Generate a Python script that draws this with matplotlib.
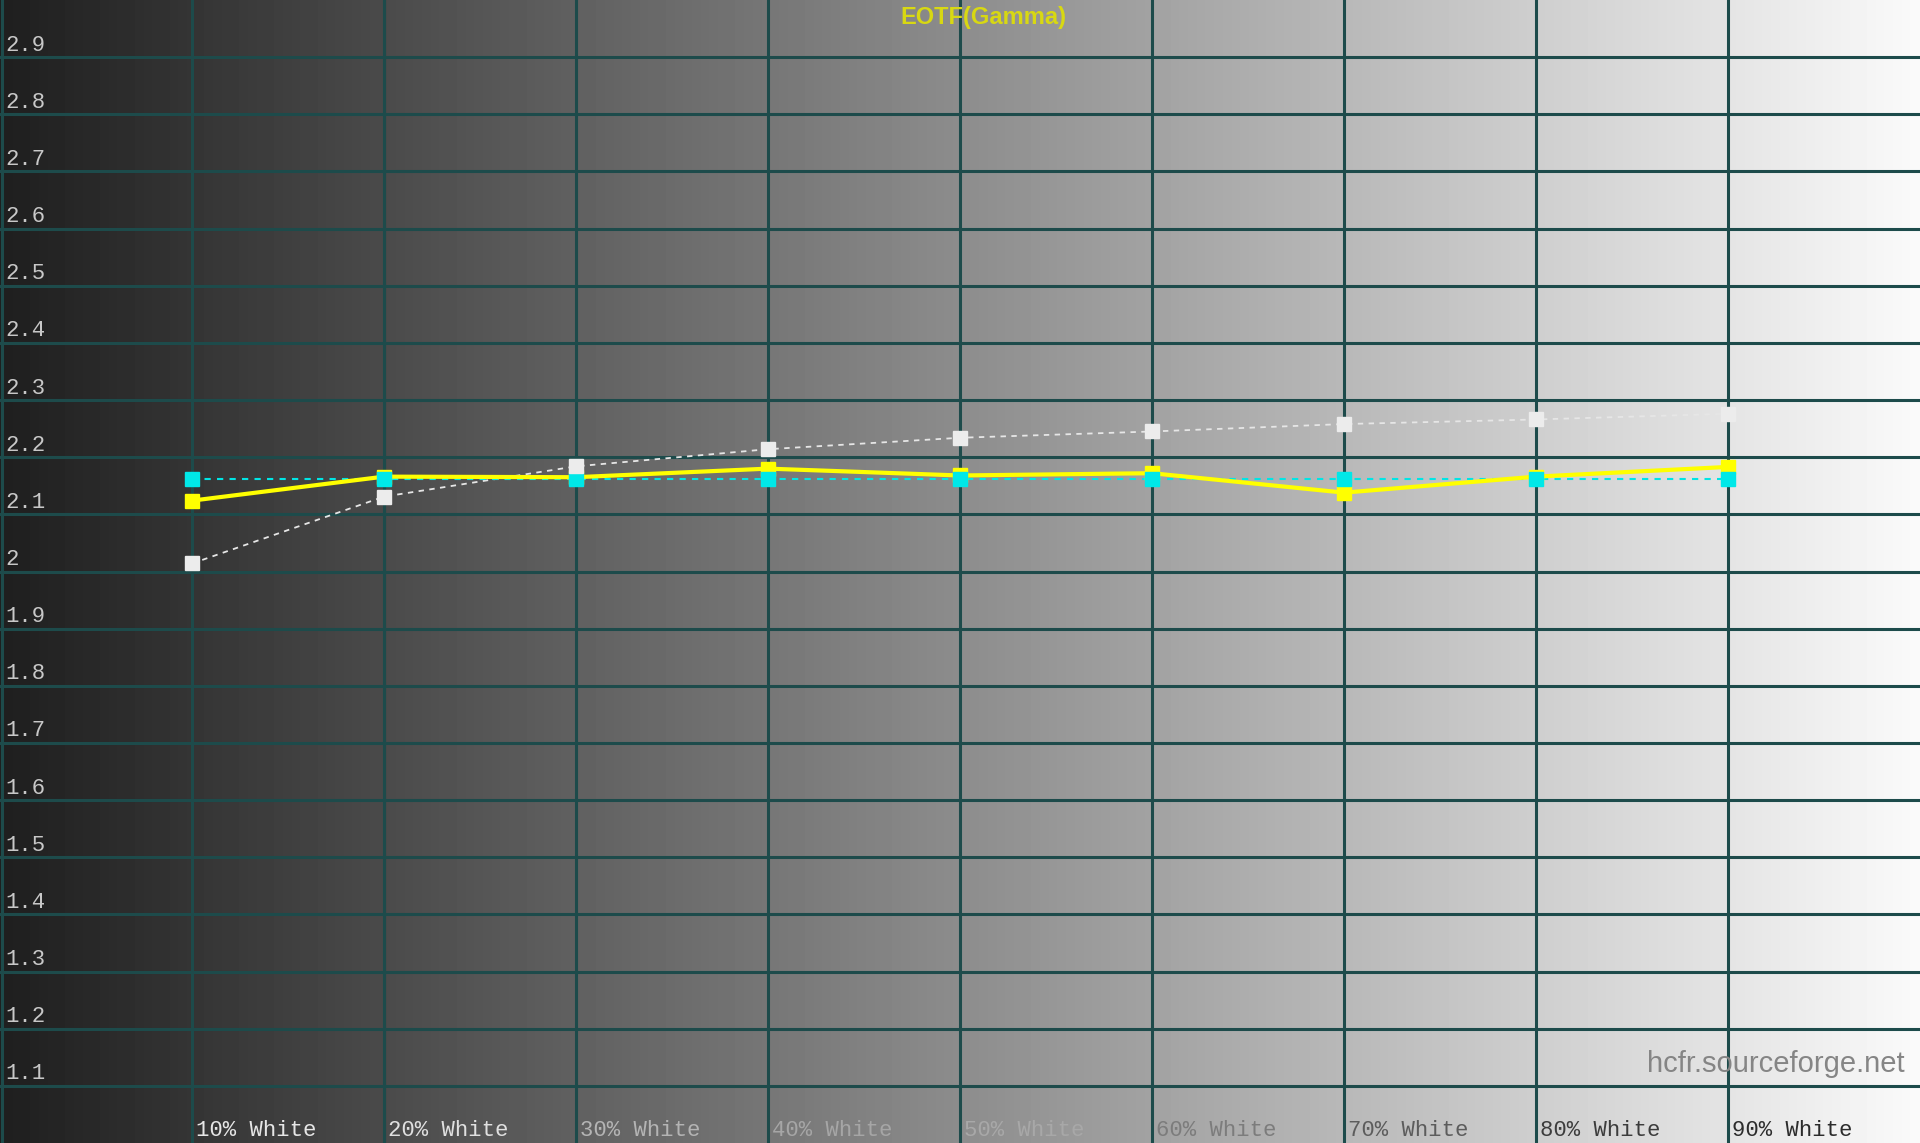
import numpy as np
import matplotlib
matplotlib.use("Agg")
import matplotlib.pyplot as plt

# 測定ポイント (% White)
levels = [10, 20, 30, 40, 50, 60, 70, 80, 90]
x_labels = ["10% White", "20% White", "30% White", "40% White", "50% White",
            "60% White", "70% White", "80% White", "90% White"]
x_label_colors = ["#e6e6e6", "#e0e0e0", "#b4b4b4", "#a6a6a6", "#a8a8a8",
                  "#7c7c7c", "#5c5c5c", "#3c3c3c", "#2c2c2c"]

# ガンマ値
gamma_measured = [2.124, 2.166, 2.165, 2.180, 2.168, 2.172, 2.138, 2.166, 2.183]
gamma_target = [2.161, 2.161, 2.161, 2.161, 2.161, 2.161, 2.161, 2.161, 2.161]
gamma_reference = [2.014, 2.131, 2.184, 2.214, 2.234, 2.245, 2.258, 2.266, 2.276]

y_ticks = [2.9, 2.8, 2.7, 2.6, 2.5, 2.4, 2.3, 2.2, 2.1, 2.0,
           1.9, 1.8, 1.7, 1.6, 1.5, 1.4, 1.3, 1.2, 1.1]
y_tick_labels = ["2.9", "2.8", "2.7", "2.6", "2.5", "2.4", "2.3", "2.2", "2.1", "2",
                 "1.9", "1.8", "1.7", "1.6", "1.5", "1.4", "1.3", "1.2", "1.1"]

fig = plt.figure(figsize=(19.2, 11.43), dpi=100)
ax = fig.add_axes([0, 0, 1, 1])
ax.set_xlim(0, 100)
ax.set_ylim(1.0, 3.0)
ax.axis("off")

# 背景のグレーグラデーション
grad = np.linspace(0.12, 0.98, 512).reshape(1, -1)
ax.imshow(grad, extent=[0, 100, 1.0, 3.0], aspect="auto", cmap="gray",
          vmin=0, vmax=1, zorder=0, interpolation="bilinear")

grid_color = "#1d4b4b"
for v in y_ticks:
    ax.axhline(v, color=grid_color, lw=2.2, zorder=1)
for x in [0.1] + levels:
    ax.axvline(x, color=grid_color, lw=2.2, zorder=1)

mono = "Liberation Mono"
for v, lab in zip(y_ticks, y_tick_labels):
    ax.text(0.3, v + 0.021, lab, family=mono, fontsize=16, color="#c8c8c8",
            ha="left", va="center", zorder=2)
for x, lab, c in zip(levels, x_labels, x_label_colors):
    ax.text(x + 0.2, 1.021, lab, family=mono, fontsize=16, color=c,
            ha="left", va="center", zorder=2)

# 基準カーブ (白の点線)
ax.plot(levels, gamma_reference, color="#e6e6e6", lw=1.3, ls=(0, (3, 3)), zorder=3)
ax.plot(levels, gamma_reference, ls="none", marker="s", ms=10,
        color="#ececec", mec="#ececec", zorder=6)

# ターゲット (シアンの破線)
ax.plot(levels, gamma_target, color="#00e5e5", lw=1.5, ls=(0, (3, 3)), zorder=3)

# 測定値 (黄色)
ax.plot(levels, gamma_measured, color="#ffff00", lw=3.0, zorder=4)
ax.plot(levels, gamma_measured, ls="none", marker="s", ms=10,
        color="#ffff00", mec="#ffff00", zorder=5)
ax.plot(levels, gamma_target, ls="none", marker="s", ms=10,
        color="#00e8e8", mec="#00e8e8", zorder=5.5)

ax.text(51.2, 2.969, "EOTF(Gamma)", family="Liberation Sans", fontweight="bold",
        fontsize=17, color="#d8d812", ha="center", va="center", zorder=7)
ax.text(99.2, 1.139, "hcfr.sourceforge.net", family="Liberation Sans",
        fontsize=21, color="#858585", ha="right", va="center", zorder=7)

fig.savefig("out.png", dpi=100)
